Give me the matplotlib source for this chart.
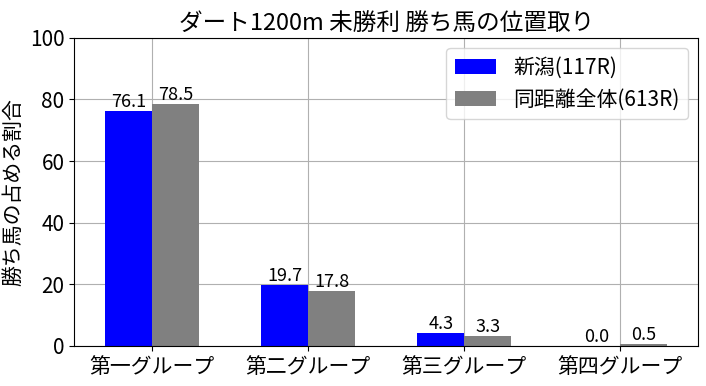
import matplotlib
matplotlib.use("Agg")
import matplotlib.pyplot as plt
import numpy as np

plt.rcParams['font.family'] = ['Noto Sans CJK JP', 'DejaVu Sans']

categories = ["第一グループ", "第二グループ", "第三グループ", "第四グループ"]
niigata = [76.1, 19.7, 4.3, 0.0]
same_dist = [78.5, 17.8, 3.3, 0.5]
labels = ["新潟(117R)", "同距離全体(613R)"]

fig = plt.figure(figsize=(7.06, 3.86), dpi=100)
ax = fig.add_axes([0.105, 0.104, 0.884, 0.798])
x = np.arange(len(categories))
w = 0.3
b1 = ax.bar(x - w/2, niigata, w, color='blue', label=labels[0])
b2 = ax.bar(x + w/2, same_dist, w, color='gray', label=labels[1])
for bars in (b1, b2):
    for r in bars:
        ax.text(r.get_x() + r.get_width()/2, r.get_height(), f"{r.get_height():.1f}",
                ha='center', va='bottom', fontsize=13)
ax.set_xticks(x)
ax.set_xticklabels(categories, fontsize=15)
ax.set_xlim(-0.5, 3.5)
ax.set_ylim(0, 100)
ax.tick_params(axis='y', labelsize=15)
ax.grid(True, color='#b0b0b0')
ax.set_axisbelow(True)
ax.set_ylabel("勝ち馬の占める割合", fontsize=15)
ax.set_title("ダート1200m 未勝利 勝ち馬の位置取り", fontsize=17)
ax.legend(loc='upper right', fontsize=15)
fig.savefig("out.png", dpi=100)
